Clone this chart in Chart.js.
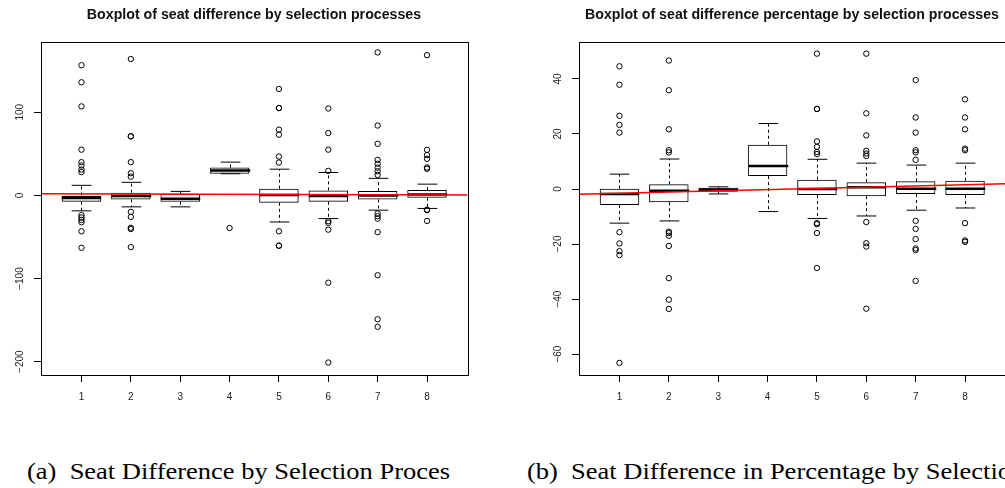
<!DOCTYPE html>
<html>
<head>
<meta charset="utf-8">
<script src="https://cdn.jsdelivr.net/npm/chart.js@4.4.0/dist/chart.umd.min.js"></script>
<style>
  html, body { margin: 0; padding: 0; background: #fff; width: 1005px; height: 488px; overflow: hidden; position: relative; }
  .panel { position: absolute; top: 0; width: 508px; height: 415px; }
  .caption { position: absolute; top: 461px; font-family: 'Liberation Serif', serif; font-size: 22.5px; line-height: 22.5px; white-space: nowrap; color: #000; transform: scaleX(1.177); transform-origin: 0 0; }
</style>
</head>
<body>
<div class="panel" style="left:0"><canvas id="seatChart" width="508" height="415"></canvas></div>
<div class="panel" style="left:538px"><canvas id="pctChart" width="508" height="415"></canvas></div>
<div class="caption" style="left:27px">(a)&nbsp;&nbsp;Seat Difference by Selection Proces</div>
<div class="caption" style="left:527px">(b)&nbsp;&nbsp;Seat Difference in Percentage by Selection Processes</div>
<script>
// selection processes (x categories)
const processes = [1, 2, 3, 4, 5, 6, 7, 8];

// seat difference: box statistics
const seatLow    = [-18.6, -13.8, -13.8, 26, -32, -27.9, -17.8, -15.7];
const seatQ1     = [-7.7, -4.9, -7.7, 26, -8.9, -7.7, -4.9, -2.9];
const seatMedian = [-3.3, -0.8, -4.1, 29.8, 0.4, -0.8, 0, 1.2];
const seatQ3     = [0, 3.2, 2, 33.4, 8, 6, 5.2, 6.4];
const seatHigh   = [12.1, 15.7, 4.8, 40, 31.5, 27.5, 20.5, 13.5];
const seatOutliers = [
  [156.5, 136, 107, 55, 40, 36, 31, 28, -23.8, -26.6, -29.5, -32.3, -43.2, -63],
  [164, 71, 71, 40, 26.6, 22.5, -19.8, -25.9, -39, -40.5, -62.2],
  [],
  [-39.2],
  [128, 105, 105, 79, 73, 46.7, 39.5, -43.2, -60.5, -60.5],
  [104.5, 75, 55, 29.5, -31, -33, -41.2, -105, -201],
  [172, 84, 62, 42.7, 38, 33.4, 29, 24.6, -21.8, -25, -28, -44.2, -96, -149, -158],
  [168.6, 54.8, 48.4, 44, 33.5, 32, -17.2, -17.8, -30.7]
];
const seatFitX = [0.18, 8.82];
const seatFitY = [1.9, 0.4];
const seatTicks = [-200, -100, 0, 100];

// seat difference percentage: box statistics
const pctLow    = [-12.4, -11.6, -1.8, -8.2, -10.7, -9.8, -7.7, -6.9];
const pctQ1     = [-5.8, -4.8, -1, 4.7, -2.2, -2.6, -1.8, -2.2];
const pctMedian = [-1.8, -0.6, -0.25, 8.4, 0, 0.6, 0.1, 0.1];
const pctQ3     = [0.1, 1.7, 0.5, 16.1, 3.4, 2.5, 2.8, 3];
const pctHigh   = [5.4, 10.9, 0.8, 23.8, 10.8, 9.4, 8.7, 9.4];
const pctOutliers = [
  [44.6, 37.9, 26.6, 23.3, 20.5, -15.7, -19.8, -22.6, -24, -63.2],
  [46.7, 35.9, 21.7, 14.1, 13.3, -15.5, -16, -17, -20.7, -32.4, -40.2, -43.6],
  [],
  [],
  [49.2, 29.1, 29.1, 17.3, 15.3, 13.5, 12.7, -12.4, -12.8, -16, -28.7],
  [49.2, 27.5, 19.5, 13.9, 12.9, 12, -12, -19.7, -20.9, -43.5],
  [39.6, 26, 20.5, 14.1, 13.3, 10.6, -11.6, -14.5, -18.2, -21.6, -22.2, -33.4],
  [32.6, 26, 21.7, 14.7, 14.1, -12.4, -18.7, -19.2]
];
const pctFitX = [0.18, 8.82];
const pctFitY = [-1.9, 1.9];
const pctTicks = [-60, -40, -20, 0, 20, 40];

const sans = "'Liberation Sans', Arial, sans-serif";

// whiskers, caps and medians, drawn right after the boxes
const boxExtras = {
  id: 'boxExtras',
  afterDatasetDraw(chart, args, opts) {
    if (args.index !== 0) return;
    const { ctx, scales: { x, y } } = chart;
    const bars = chart.getDatasetMeta(0).data;
    const seg = (x1, y1, x2, y2) => { ctx.beginPath(); ctx.moveTo(x1, y1); ctx.lineTo(x2, y2); ctx.stroke(); };
    ctx.save();
    ctx.strokeStyle = '#000';
    processes.forEach((p, i) => {
      const cx = Math.round(x.getPixelForValue(p)) + 0.5;
      const half = bars[i].width / 2;
      const yLow = y.getPixelForValue(opts.low[i]);
      const yHigh = y.getPixelForValue(opts.high[i]);
      ctx.lineWidth = 1;
      ctx.setLineDash([3, 3]);
      seg(cx, y.getPixelForValue(opts.q3[i]), cx, yHigh);
      seg(cx, y.getPixelForValue(opts.q1[i]), cx, yLow);
      ctx.setLineDash([]);
      seg(cx - half / 2, yHigh, cx + half / 2, yHigh);
      seg(cx - half / 2, yLow, cx + half / 2, yLow);
      ctx.lineWidth = 2.5;
      const ym = y.getPixelForValue(opts.median[i]);
      seg(cx - half, ym, cx + half, ym);
    });
    ctx.restore();
  }
};

// plot frame and rotated y labels (R style)
const frameAndLabels = {
  id: 'frameAndLabels',
  afterDraw(chart, args, opts) {
    const { ctx, chartArea: a, scales: { y } } = chart;
    ctx.save();
    ctx.strokeStyle = '#000';
    ctx.lineWidth = 1;
    ctx.strokeRect(Math.round(a.left) + 0.5, Math.round(a.top) + 0.5,
      Math.round(a.right - a.left), Math.round(a.bottom - a.top));
    ctx.fillStyle = '#222';
    ctx.font = '10px ' + sans;
    ctx.textAlign = 'center';
    ctx.textBaseline = 'middle';
    opts.ticks.forEach(v => {
      ctx.save();
      ctx.translate(20, y.getPixelForValue(v));
      ctx.rotate(-Math.PI / 2);
      ctx.fillText(String(v).replace('-', '\u2212'), 0, 0);
      ctx.restore();
    });
    ctx.restore();
  }
};

function makeBoxplot(id, title, s) {
  const outlierPoints = [];
  s.outliers.forEach((list, i) => list.forEach(v => outlierPoints.push({ x: processes[i], y: v })));
  return new Chart(document.getElementById(id), {
    type: 'bar',
    data: {
      datasets: [
        {
          type: 'bar',
          data: processes.map((p, i) => ({ x: p, y: [s.q1[i], s.q3[i]] })),
          backgroundColor: 'rgba(0,0,0,0)',
          borderColor: '#000',
          borderWidth: 1,
          borderSkipped: false,
          barPercentage: 0.8,
          categoryPercentage: 1,
          order: 2
        },
        {
          type: 'scatter',
          data: outlierPoints,
          pointStyle: 'circle',
          pointRadius: 2.7,
          borderColor: '#000',
          backgroundColor: 'rgba(0,0,0,0)',
          borderWidth: 1,
          order: 1
        },
        {
          type: 'line',
          data: s.fitX.map((v, i) => ({ x: v, y: s.fitY[i] })),
          borderColor: '#ff0000',
          borderWidth: 1.5,
          pointRadius: 0,
          order: 0
        }
      ]
    },
    options: {
      responsive: false,
      animation: false,
      layout: { padding: 0 },
      plugins: {
        legend: { display: false },
        tooltip: { enabled: false },
        title: {
          display: true,
          text: title,
          color: '#111',
          font: { family: sans, size: 14.2, weight: 'bold', lineHeight: 1.2 },
          padding: { top: 6.5, bottom: 18 }
        },
        boxExtras: { low: s.low, q1: s.q1, median: s.median, q3: s.q3, high: s.high },
        frameAndLabels: { ticks: s.ticks }
      },
      scales: {
        x: {
          type: 'linear',
          min: 0.18,
          max: 8.82,
          offset: false,
          afterBuildTicks: sc => { sc.ticks = processes.map(v => ({ value: v })); },
          afterFit: sc => { sc.height = 40; },
          grid: { display: true, offset: false, drawOnChartArea: false, drawTicks: true, tickLength: 7, color: '#000', tickColor: '#000' },
          border: { display: false },
          ticks: { padding: 9, color: '#222', font: { family: sans, size: 10 } }
        },
        y: {
          min: s.min,
          max: s.max,
          afterBuildTicks: sc => { sc.ticks = s.ticks.map(v => ({ value: v })); },
          afterFit: sc => { sc.width = 41; },
          grid: { display: true, drawOnChartArea: false, drawTicks: true, tickLength: 7, color: '#000', tickColor: '#000' },
          border: { display: false },
          ticks: { display: false }
        },
        // empty right margin so the title stays centred over the plot
        yRight: {
          position: 'right',
          min: s.min,
          max: s.max,
          afterFit: sc => { sc.width = 40.5; },
          grid: { display: false },
          border: { display: false },
          ticks: { display: false }
        }
      }
    },
    plugins: [boxExtras, frameAndLabels]
  });
}

makeBoxplot('seatChart', 'Boxplot of seat difference by selection processes', {
  low: seatLow, q1: seatQ1, median: seatMedian, q3: seatQ3, high: seatHigh,
  outliers: seatOutliers, fitX: seatFitX, fitY: seatFitY, ticks: seatTicks, min: -216, max: 185
});

makeBoxplot('pctChart', 'Boxplot of seat difference percentage by selection processes', {
  low: pctLow, q1: pctQ1, median: pctMedian, q3: pctQ3, high: pctHigh,
  outliers: pctOutliers, fitX: pctFitX, fitY: pctFitY, ticks: pctTicks, min: -67.6, max: 53.6
});
</script>
</body>
</html>
